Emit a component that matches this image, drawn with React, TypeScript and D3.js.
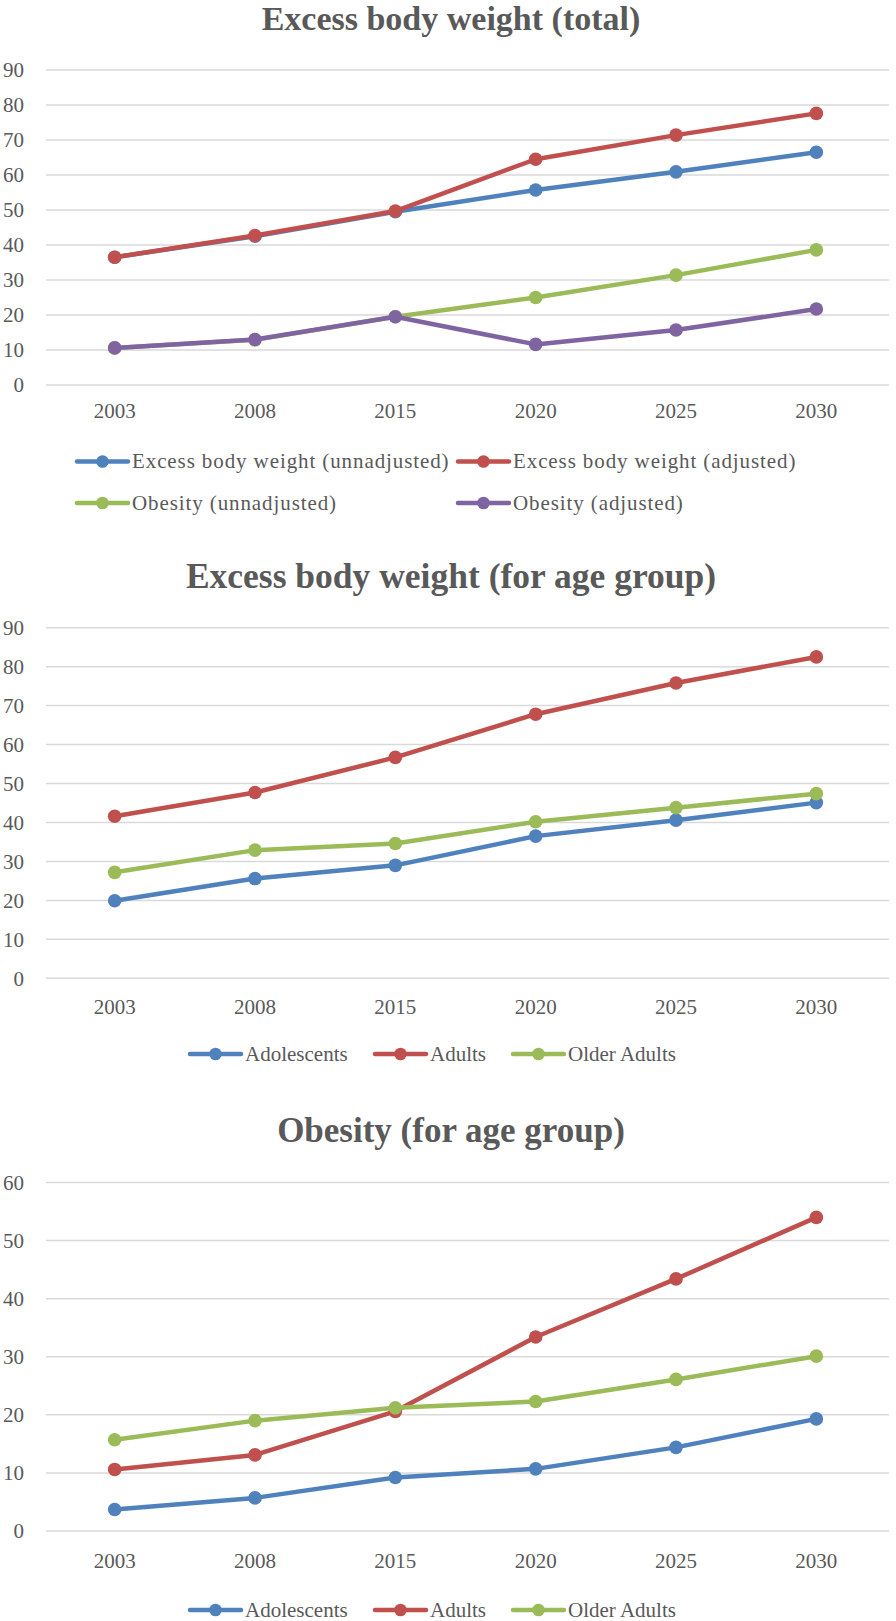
import React from "react";
import * as d3 from "d3";

const years = ["2003", "2008", "2015", "2020", "2025", "2030"];

// Chart 1: Excess body weight (total)
const ebwUnadjusted = [36.5, 42.5, 49.5, 55.7, 60.9, 66.5];
const ebwAdjusted = [36.5, 42.7, 49.7, 64.5, 71.4, 77.6];
const obesityUnadjusted = [10.6, 12.9, 19.5, 25.0, 31.4, 38.6];
const obesityAdjusted = [10.6, 13.0, 19.5, 11.6, 15.7, 21.7];
const ticks1 = [0, 10, 20, 30, 40, 50, 60, 70, 80, 90];

// Chart 2: Excess body weight (for age group)
const ebwAdolescents = [19.9, 25.6, 29.0, 36.5, 40.6, 45.1];
const ebwAdults = [41.6, 47.7, 56.7, 67.8, 75.8, 82.5];
const ebwOlderAdults = [27.2, 32.9, 34.6, 40.2, 43.8, 47.4];
const ticks2 = [0, 10, 20, 30, 40, 50, 60, 70, 80, 90];

// Chart 3: Obesity (for age group)
const obAdolescents = [3.7, 5.7, 9.2, 10.7, 14.4, 19.3];
const obAdults = [10.6, 13.1, 20.6, 33.4, 43.4, 54.0];
const obOlderAdults = [15.7, 19.0, 21.2, 22.3, 26.1, 30.1];
const ticks3 = [0, 10, 20, 30, 40, 50, 60];

const BLUE = "#4F81BD";
const RED = "#C0504D";
const GREEN = "#9BBB59";
const PURPLE = "#8064A2";
const TEXT = "#595959";
const GRID = "#D9D9D9";
const FONT = "'Liberation Serif', 'Times New Roman', serif";

type Series = { name: string; values: number[]; color: string };
type LegendItem = { name: string; color: string; x: number; y: number };

function LineChart(props: {
  title: string;
  titleY: number;
  titleSize: number;
  yTop: number;
  yZero: number;
  maxV: number;
  ticks: number[];
  xLabelY: number;
  series: Series[];
  legend: LegendItem[];
  legendSpacing: number;
}) {
  const { title, titleY, titleSize, yTop, yZero, maxV, ticks, xLabelY, series, legend, legendSpacing } = props;
  const x = d3.scaleBand<string>().domain(years).range([44.5, 886.5]);
  const y = d3.scaleLinear().domain([0, maxV]).range([yZero, yTop]);
  const line = d3
    .line<number>()
    .x((_, i) => (x(years[i]) as number) + x.bandwidth() / 2)
    .y((d) => y(d));
  return (
    <g>
      <text
        x={451}
        y={titleY}
        textAnchor="middle"
        fontFamily={FONT}
        fontWeight="bold"
        fontSize={titleSize}
        fill={TEXT}
      >
        {title}
      </text>
      {ticks.map((t) => (
        <g key={t}>
          <line x1={46} x2={889} y1={y(t)} y2={y(t)} stroke={GRID} strokeWidth={1.5} />
          <text
            x={24}
            y={y(t)}
            dy="0.35em"
            textAnchor="end"
            fontFamily={FONT}
            fontSize={21}
            fill={TEXT}
          >
            {t}
          </text>
        </g>
      ))}
      {years.map((yr) => (
        <text
          key={yr}
          x={(x(yr) as number) + x.bandwidth() / 2}
          y={xLabelY}
          textAnchor="middle"
          fontFamily={FONT}
          fontSize={21}
          fill={TEXT}
        >
          {yr}
        </text>
      ))}
      {series.map((s) => (
        <g key={s.name}>
          <path
            d={line(s.values) || ""}
            fill="none"
            stroke={s.color}
            strokeWidth={4.5}
            strokeLinejoin="round"
            strokeLinecap="round"
          />
          {s.values.map((v, i) => (
            <circle
              key={i}
              cx={(x(years[i]) as number) + x.bandwidth() / 2}
              cy={y(v)}
              r={6.8}
              fill={s.color}
            />
          ))}
        </g>
      ))}
      {legend.map((l) => (
        <g key={l.name}>
          <line
            x1={l.x}
            x2={l.x + 51}
            y1={l.y}
            y2={l.y}
            stroke={l.color}
            strokeWidth={4.5}
            strokeLinecap="round"
          />
          <circle cx={l.x + 25.5} cy={l.y} r={6.3} fill={l.color} />
          <text
            x={l.x + 55}
            y={l.y}
            dy="0.33em"
            fontFamily={FONT}
            fontSize={21}
            letterSpacing={legendSpacing}
            fill={TEXT}
          >
            {l.name}
          </text>
        </g>
      ))}
    </g>
  );
}

export default function App() {
  return (
    <div>
      <style>{"body{margin:0;background:#fff}"}</style>
      <svg width={896} height={1621} style={{ display: "block", background: "#fff" }}>
        <LineChart
          title="Excess body weight (total)"
          titleY={30}
          titleSize={34}
          yTop={70}
          yZero={385}
          maxV={90}
          ticks={ticks1}
          xLabelY={418}
          legendSpacing={0.9}
          series={[
            { name: "Excess body weight (unnadjusted)", values: ebwUnadjusted, color: BLUE },
            { name: "Excess body weight (adjusted)", values: ebwAdjusted, color: RED },
            { name: "Obesity (unnadjusted)", values: obesityUnadjusted, color: GREEN },
            { name: "Obesity (adjusted)", values: obesityAdjusted, color: PURPLE },
          ]}
          legend={[
            { name: "Excess body weight (unnadjusted)", color: BLUE, x: 77, y: 461.5 },
            { name: "Excess body weight (adjusted)", color: RED, x: 458, y: 461.5 },
            { name: "Obesity (unnadjusted)", color: GREEN, x: 77, y: 503 },
            { name: "Obesity (adjusted)", color: PURPLE, x: 458, y: 503 },
          ]}
        />
        <LineChart
          title="Excess body weight (for age group)"
          titleY={588}
          titleSize={35.5}
          yTop={627.7}
          yZero={978.3}
          maxV={90}
          ticks={ticks2}
          xLabelY={1014}
          legendSpacing={0}
          series={[
            { name: "Adolescents", values: ebwAdolescents, color: BLUE },
            { name: "Adults", values: ebwAdults, color: RED },
            { name: "Older Adults", values: ebwOlderAdults, color: GREEN },
          ]}
          legend={[
            { name: "Adolescents", color: BLUE, x: 190, y: 1054 },
            { name: "Adults", color: RED, x: 375, y: 1054 },
            { name: "Older Adults", color: GREEN, x: 513, y: 1054 },
          ]}
        />
        <LineChart
          title="Obesity (for age group)"
          titleY={1142}
          titleSize={35}
          yTop={1182.5}
          yZero={1531}
          maxV={60}
          ticks={ticks3}
          xLabelY={1568}
          legendSpacing={0}
          series={[
            { name: "Adolescents", values: obAdolescents, color: BLUE },
            { name: "Adults", values: obAdults, color: RED },
            { name: "Older Adults", values: obOlderAdults, color: GREEN },
          ]}
          legend={[
            { name: "Adolescents", color: BLUE, x: 190, y: 1610 },
            { name: "Adults", color: RED, x: 375, y: 1610 },
            { name: "Older Adults", color: GREEN, x: 513, y: 1610 },
          ]}
        />
      </svg>
    </div>
  );
}
